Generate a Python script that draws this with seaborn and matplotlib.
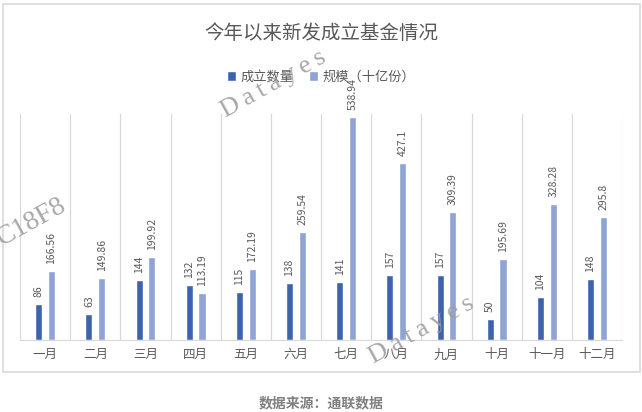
import pandas as pd
import matplotlib.pyplot as plt
import seaborn as sns
from matplotlib.patches import Rectangle

sns.set_style('white')
plt.rcParams['font.family'] = ['Noto Sans CJK SC', 'DejaVu Sans']
plt.rcParams['axes.unicode_minus'] = False

months = ['一月', '二月', '三月', '四月', '五月', '六月',
          '七月', '八月', '九月', '十月', '十一月', '十二月']
fund_count = [86, 63, 144, 132, 115, 138, 141, 157, 157, 50, 104, 148]
fund_scale = [166.56, 149.86, 199.92, 113.19, 172.19, 259.54,
              538.94, 427.1, 309.39, 195.69, 328.28, 295.8]
series_names = ['成立数量', '规模（十亿份）']

data = pd.DataFrame({
    'month': months * 2,
    'value': fund_count + fund_scale,
    'series': [series_names[0]] * 12 + [series_names[1]] * 12,
})

fig = plt.figure(figsize=(6.42, 4.12), dpi=100)
ax = fig.add_axes([0.0312, 0.1748, 0.9377, 0.5485])

colors = {series_names[0]: '#3D63AD', series_names[1]: '#8FA4D5'}
sns.barplot(data=data, x='month', y='value', hue='series', palette=colors,
            width=0.51, gap=0.45, saturation=1, ax=ax)

# 數值標籤 (直排)
for container in ax.containers:
    ax.bar_label(container, fmt='%g', rotation=90, padding=5,
                 fontsize=7.5, color='#595959')

ax.set_xlim(-0.5, 11.5)
ax.set_ylim(0, 545)
ax.set_xlabel('')
ax.set_ylabel('')
ax.set_yticks([])

# 類別分隔線
for i in range(13):
    ax.axvline(i - 0.5, color='#D9D9D9', lw=0.9, zorder=0)

for s in ['top', 'left', 'right']:
    ax.spines[s].set_visible(False)
ax.spines['bottom'].set_color('#D9D9D9')
ax.tick_params(axis='x', labelsize=9, colors='#595959', length=0, pad=6)

handles, labels = ax.get_legend_handles_labels()
ax.get_legend().remove()
fig.legend(handles, labels, loc='center', bbox_to_anchor=(0.5, 0.813), ncol=2,
           frameon=False, fontsize=9.5, labelcolor='#595959',
           handlelength=0.7, handleheight=0.7, handletextpad=0.3,
           columnspacing=1.2)

fig.text(0.5, 0.918, '今年以来新发成立基金情况', ha='center', va='center',
         fontsize=14, color='#595959')

# 外框
fig.patches.append(Rectangle((0.0047, 0.097), 0.992, 0.893, transform=fig.transFigure,
                             fill=False, edgecolor='#D9D9D9', lw=1.2))

fig.text(0.5, 0.02, '数据来源：通联数据', ha='center', va='center',
         fontsize=10, color='#7F7F7F', fontweight='bold')

# 浮水印
wm = dict(rotation=29, color='#9E9E9E', family='Liberation Serif',
          ha='center', va='center', zorder=10, alpha=0.9)
spaced = '\u2009'.join('Datayes')
fig.text(0.426, 0.796, spaced, fontsize=19, **wm)
fig.text(0.656, 0.199, spaced, fontsize=19, **wm)
fig.text(0.05, 0.461, 'C18F8', fontsize=20, **wm)

fig.savefig('out.png', dpi=100)
